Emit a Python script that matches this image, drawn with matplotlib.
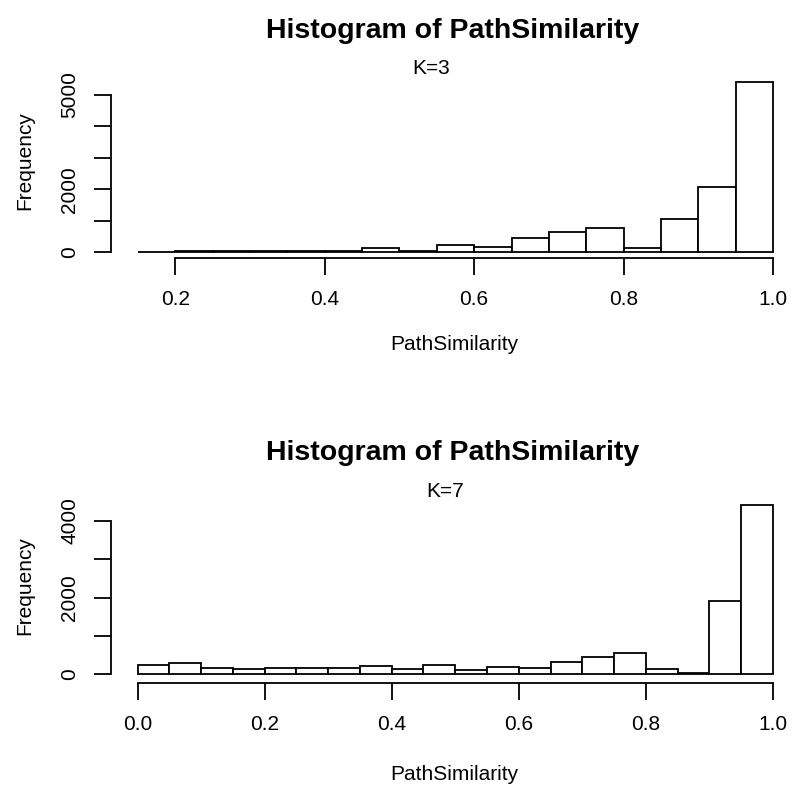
import numpy as np
import matplotlib
matplotlib.use("Agg")
import matplotlib.pyplot as plt

plt.rcParams['font.family'] = ['Liberation Sans', 'DejaVu Sans']

# ---- data ----
title = "Histogram of PathSimilarity"
xlabel = "PathSimilarity"
ylabel = "Frequency"

k3_label = "K=3"
k3_edges = [0.15, 0.20, 0.25, 0.30, 0.35, 0.40, 0.45, 0.50, 0.55, 0.60,
            0.65, 0.70, 0.75, 0.80, 0.85, 0.90, 0.95, 1.00]
k3_counts = [0, 30, 30, 30, 35, 45, 146, 40, 242, 178, 464, 645, 782, 127,
             1049, 2066, 5404]
k3_xticks = [0.2, 0.4, 0.6, 0.8, 1.0]
k3_xticklabels = ["0.2", "0.4", "0.6", "0.8", "1.0"]
k3_yticks = [0, 1000, 2000, 3000, 4000, 5000]
k3_yticklabels = ["0", "", "2000", "", "", "5000"]

k7_label = "K=7"
k7_edges = [0.00, 0.05, 0.10, 0.15, 0.20, 0.25, 0.30, 0.35, 0.40, 0.45, 0.50,
            0.55, 0.60, 0.65, 0.70, 0.75, 0.80, 0.85, 0.90, 0.95, 1.00]
k7_counts = [242, 294, 182, 130, 182, 182, 182, 217, 148, 253, 104, 208, 174,
             331, 443, 555, 148, 30, 1919, 4409]
k7_xticks = [0.0, 0.2, 0.4, 0.6, 0.8, 1.0]
k7_xticklabels = ["0.0", "0.2", "0.4", "0.6", "0.8", "1.0"]
k7_yticks = [0, 1000, 2000, 3000, 4000]
k7_yticklabels = ["0", "", "2000", "", "4000"]

# ---- layout (pixels) ----
W, H = 792, 793
fig = plt.figure(figsize=(W / 100, H / 100), dpi=100)
fig.patch.set_facecolor("white")


def px_axes(left, right, top, bottom):
    return fig.add_axes([left / W, 1 - bottom / H, (right - left) / W, (bottom - top) / H])


def fx(x):
    return x / W


def fy(y):
    return 1 - y / H


TXT = 15
TTL = 20.5
LW = 1.3


def panel(ax, edges, counts, xticks, xtl, yticks, ytl, xlim, ylim):
    edges = np.asarray(edges)
    widths = np.diff(edges)
    ax.bar(edges[:-1], counts, width=widths, align="edge", facecolor="white",
           edgecolor="black", linewidth=LW)
    ax.set_xlim(*xlim)
    ax.set_ylim(*ylim)
    for s in ("top", "right"):
        ax.spines[s].set_visible(False)
    ax.spines["left"].set_bounds(yticks[0], yticks[-1])
    ax.spines["bottom"].set_bounds(xticks[0], xticks[-1])
    for s in ("left", "bottom"):
        ax.spines[s].set_linewidth(LW)
    ax.set_xticks(xticks)
    ax.set_xticklabels(xtl)
    ax.set_yticks(yticks)
    ax.set_yticklabels(ytl, rotation=90, va="center")
    ax.tick_params(axis="both", length=12, width=LW, labelsize=TXT, colors="black", pad=11)
    ax.set_facecolor("white")


ax1 = px_axes(111, 798, 75.5, 258.3)
panel(ax1, k3_edges, k3_counts, k3_xticks, k3_xticklabels, k3_yticks, k3_yticklabels,
      (0.1139, 1.0335), (-191, 5620))
fig.text(fx(453), fy(31), title, ha="center", va="center", fontsize=TTL, fontweight="bold")
fig.text(fx(431), fy(69), k3_label, ha="center", va="center", fontsize=TXT)
fig.text(fx(454), fy(344), xlabel, ha="center", va="center", fontsize=TXT)
fig.text(fx(25), fy(161), ylabel, ha="center", va="center", rotation=90, fontsize=TXT)

ax2 = px_axes(111, 798, 499, 682.7)
panel(ax2, k7_edges, k7_counts, k7_xticks, k7_xticklabels, k7_yticks, k7_yticklabels,
      (-0.0417, 1.0393), (-214, 4573))
fig.text(fx(453), fy(453), title, ha="center", va="center", fontsize=TTL, fontweight="bold")
fig.text(fx(445), fy(492), k7_label, ha="center", va="center", fontsize=TXT)
fig.text(fx(454), fy(774), xlabel, ha="center", va="center", fontsize=TXT)
fig.text(fx(25), fy(586), ylabel, ha="center", va="center", rotation=90, fontsize=TXT)

fig.savefig("out.png", dpi=100, facecolor="white")
